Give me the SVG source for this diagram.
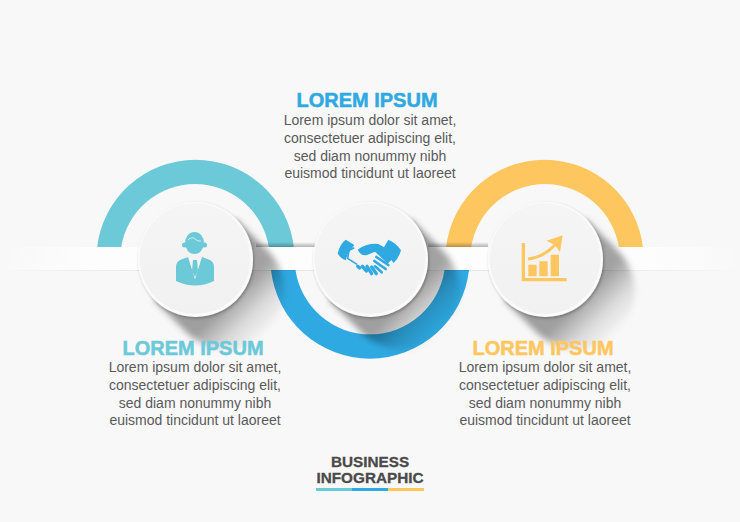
<svg xmlns="http://www.w3.org/2000/svg" width="740" height="522" viewBox="0 0 740 522">
<style>
.title{font:bold 20px "Liberation Sans",Arial,sans-serif;text-anchor:middle;stroke-width:.5px}
.body{font:14px "Liberation Sans",Arial,sans-serif;fill:#5a5a5a;text-anchor:middle}
.head{font:bold 15.300px "Liberation Sans",Arial,sans-serif;fill:#4a4a4a;text-anchor:middle;stroke:#4a4a4a;stroke-width:.3px}
.shadow{fill:url(#sg);filter:url(#b3)}
.rim{fill:#fbfbfb;filter:url(#drop)}
.face{fill:url(#fg)}
.t{fill:#6cc9d8}.b{fill:#2fa9e1}.y{fill:#fdc65f}
</style>
<defs>
<linearGradient id="sg" x1="0" y1="0" x2="1" y2="1">
<stop offset="0.6" stop-color="#000" stop-opacity=".36"/><stop offset=".73" stop-color="#000" stop-opacity=".14"/><stop offset=".87" stop-color="#000" stop-opacity="0"/>
</linearGradient>
<linearGradient id="fg" x1="0" y1="0" x2="0" y2="1"><stop offset="0" stop-color="#f5f5f5"/><stop offset="1" stop-color="#f1f1f2"/></linearGradient>
<linearGradient id="band" x1="0" y1="0" x2="1" y2="0">
<stop offset="0" stop-color="#fdfdfd" stop-opacity="0"/><stop offset=".12" stop-color="#fdfdfd"/><stop offset=".88" stop-color="#fdfdfd"/><stop offset="1" stop-color="#fdfdfd" stop-opacity="0"/>
</linearGradient>
<linearGradient id="line" x1="0" y1="0" x2="1" y2="0">
<stop offset="0" stop-color="#000" stop-opacity="0"/><stop offset=".2" stop-color="#000" stop-opacity=".07"/><stop offset=".8" stop-color="#000" stop-opacity=".07"/><stop offset="1" stop-color="#000" stop-opacity="0"/>
</linearGradient>
<linearGradient id="topsh" x1="0" y1="0" x2="0" y2="1"><stop offset="0" stop-color="#000" stop-opacity="0"/><stop offset="1" stop-color="#000" stop-opacity=".28"/></linearGradient>
<filter id="b3" x="-30%" y="-30%" width="160%" height="160%"><feGaussianBlur stdDeviation="3"/></filter>
<filter id="drop" x="-20%" y="-20%" width="140%" height="140%"><feDropShadow dx="1" dy="1.500" stdDeviation="1.500" flood-color="#000" flood-opacity=".28"/></filter>
</defs>
<rect width="740" height="522" fill="#f8f8f8"/>
<g id="connectors">
<path class="t" d="M97 248A99.100 99.100 0 0 1 294 248H269A74.800 74.800 0 0 0 121 248Z"/>
<path class="y" d="M446 248A99.100 99.100 0 0 1 643 248H619A74.800 74.800 0 0 0 471 248Z"/>
<path class="b" d="M271 270A99.600 99.600 0 0 0 469 270H444.500A75.300 75.300 0 0 1 295.500 270Z"/>
<rect x="256" y="242" width="60" height="5" fill="url(#topsh)"/>
<rect x="428" y="242" width="60" height="5" fill="url(#topsh)"/>
<rect x="0" y="247" width="740" height="23" fill="url(#band)"/>
<rect x="0" y="270" width="740" height="1" fill="url(#line)"/>
</g>
<g id="node-1">
<path class="shadow" d="M236 219L268 251A57 57 0 0 1 186 332L154 300Z"/>
<circle class="rim" cx="195.500" cy="259.500" r="57.500"/>
<circle class="face" cx="195" cy="258.500" r="55.500"/>
<g class="t">
<ellipse cx="194.500" cy="243" rx="9.500" ry="11"/><circle cx="184.500" cy="245" r="2.500"/><circle cx="204.500" cy="245" r="2.500"/>
<path d="M188 257L195 279L202 257L210 260Q214 262 214 267V281Q204 285.500 195 285.500T176 281V267Q176 262 180 260Z"/>
</g>
<path d="M189 258L195 279L201 258L198 260H192Z" fill="#f3f3f3"/>
<path d="M193 260H197L198 271L195 277L192 271Z" fill="#6cc9d8"/>
<path d="M188 240Q192 236 195 239T201 241" fill="none" stroke="#f3f3f3" stroke-width=".8"/>
<text class="title" x="193" y="355" fill="#6cc9d8" stroke="#6cc9d8">LOREM IPSUM</text>
<g class="body"><text x="195" y="372">Lorem ipsum dolor sit amet,</text><text x="195" y="390">consectetuer adipiscing elit,</text><text x="195" y="408">sed diam nonummy nibh</text><text x="195" y="425">euismod tincidunt ut laoreet</text></g>
</g>
<g id="node-2">
<path class="shadow" d="M411 219L443 251A57 57 0 0 1 361 332L329 300Z"/>
<circle class="rim" cx="370.500" cy="259.500" r="57.500"/>
<circle class="face" cx="370" cy="258.500" r="55.500"/>
<g transform="translate(325 225) scale(.3333)">
<path class="b" d="M38 85Q44 58 62 44L88 60L68 88L62 106Q46 100 38 85ZM190 44Q214 54 228 76Q222 98 206 114L192 96L176 68Z"/>
<path class="b" d="M98 74Q125 54 160 57L176 66L200 104L188 116L150 80L126 90Q108 94 98 74Z"/>
<path fill="none" stroke="#2fa9e1" stroke-width="5" d="M88 68L72 76L68 100L96 118"/>
<g fill="none" stroke="#2fa9e1" stroke-width="10" stroke-linecap="round"><path d="M98 124L104 129M112 124L124 138M126 124L140 146M140 126L154 146"/><path stroke-width="8" d="M154 96L190 120M148 108L182 132M150 124L170 142"/></g>
</g>
<text class="title" x="367" y="107" fill="#2fa9e1" stroke="#2fa9e1">LOREM IPSUM</text>
<g class="body"><text x="370" y="125">Lorem ipsum dolor sit amet,</text><text x="370" y="143">consectetuer adipiscing elit,</text><text x="370" y="161">sed diam nonummy nibh</text><text x="370" y="178">euismod tincidunt ut laoreet</text></g>
</g>
<g id="node-3">
<path class="shadow" d="M586 219L618 251A57 57 0 0 1 536 332L504 300Z"/>
<circle class="rim" cx="545.500" cy="259.500" r="57.500"/>
<circle class="face" cx="545" cy="258.500" r="55.500"/>
<g transform="translate(510 228) scale(.3333)">
<path class="y" d="M35 45H45V150H170V160H35ZM55 110H80V145H55ZM88 100H113V145H88ZM122 80H147V145H122Z"/>
<path d="M54 93Q100 88 134 52" fill="none" stroke="#fdc65f" stroke-width="9"/>
<path class="y" d="M110 38L158 22L150 72L135 52Z"/>
</g>
<text class="title" x="543" y="355" fill="#fdc65f" stroke="#fdc65f">LOREM IPSUM</text>
<g class="body"><text x="545" y="372">Lorem ipsum dolor sit amet,</text><text x="545" y="390">consectetuer adipiscing elit,</text><text x="545" y="408">sed diam nonummy nibh</text><text x="545" y="425">euismod tincidunt ut laoreet</text></g>
</g>
<g id="heading">
<text class="head" x="370" y="467">BUSINESS</text>
<text class="head" x="370" y="483">INFOGRAPHIC</text>
<rect class="t" x="316" y="488" width="36" height="3"/><rect class="b" x="352" y="488" width="36" height="3"/><rect class="y" x="388" y="488" width="36" height="3"/>
</g>
</svg>
